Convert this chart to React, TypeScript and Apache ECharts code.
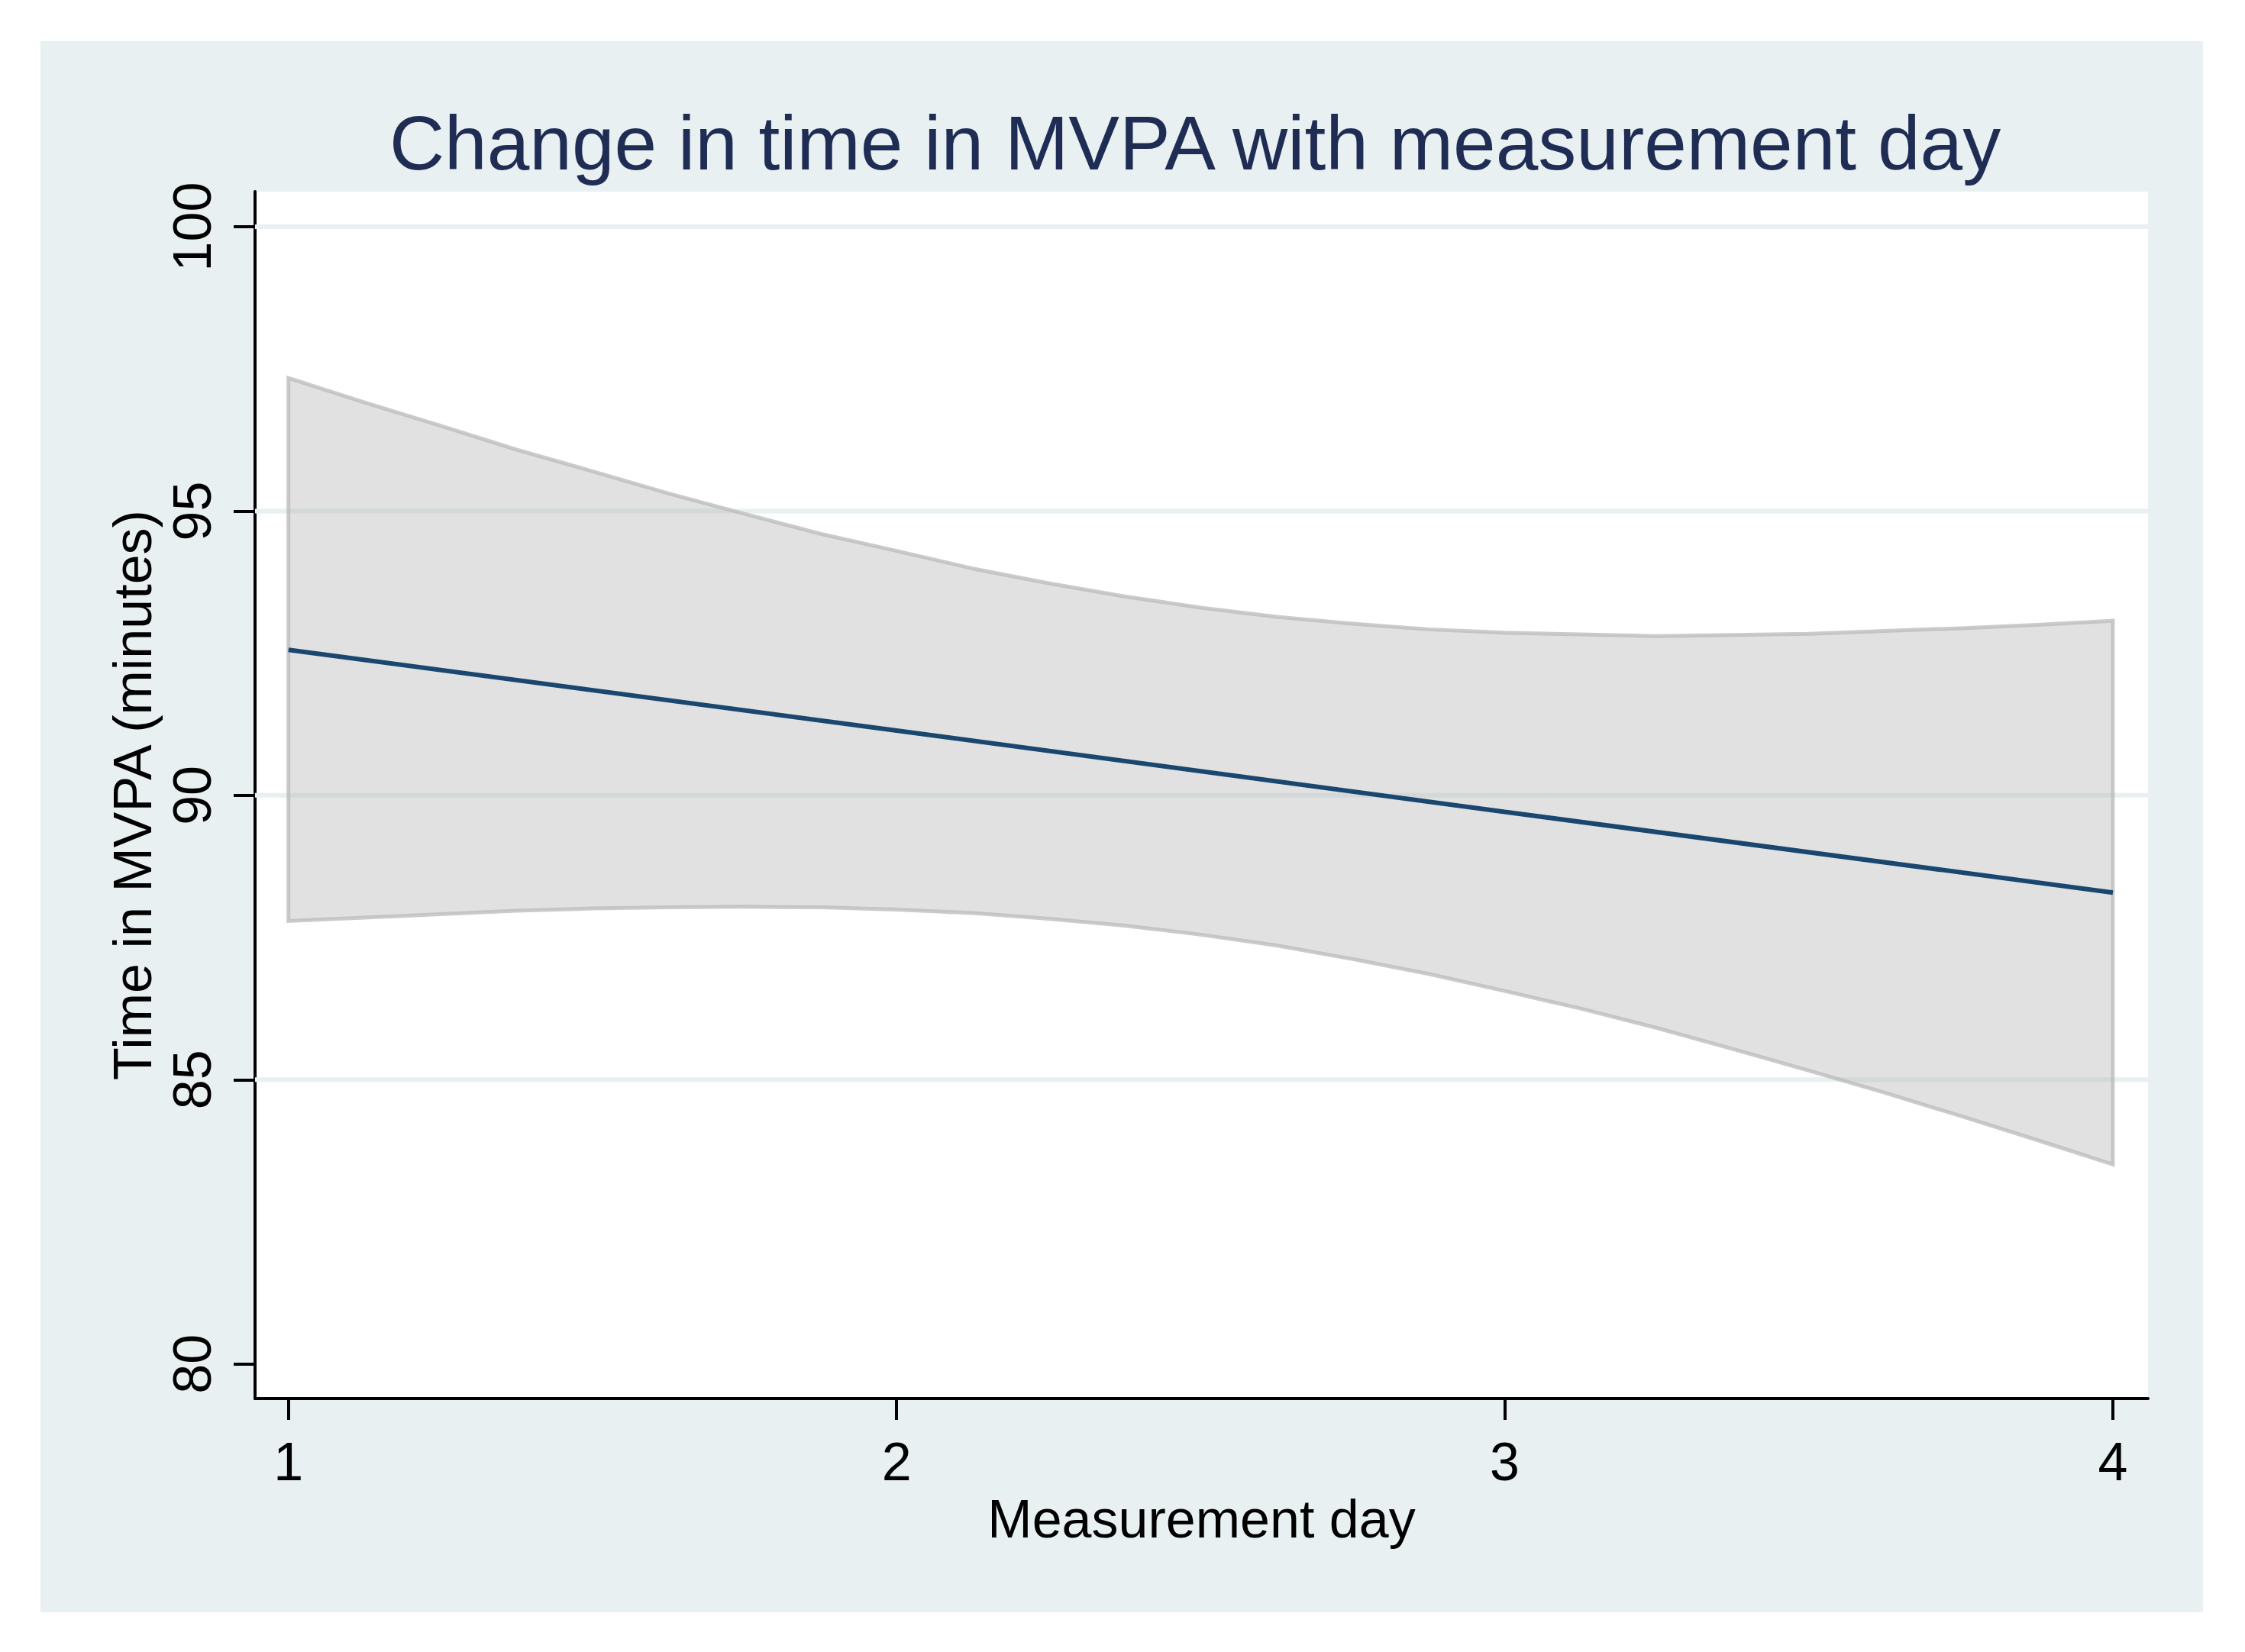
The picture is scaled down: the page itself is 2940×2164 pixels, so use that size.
import React, { useEffect, useRef } from "react";
import * as echarts from "echarts";

// ---- data ----
const bandDays = [1, 1.125, 1.25, 1.375, 1.5, 1.625, 1.75, 1.875, 2, 2.125, 2.25, 2.375, 2.5, 2.625, 2.75, 2.875, 3, 3.125, 3.25, 3.375, 3.5, 3.625, 3.75, 3.875, 4];
const ciUpper = [97.34, 96.91, 96.5, 96.08, 95.7, 95.31, 94.95, 94.6, 94.3, 93.99, 93.73, 93.5, 93.3, 93.14, 93.02, 92.92, 92.86, 92.83, 92.8, 92.82, 92.84, 92.89, 92.94, 93.0, 93.07];
const ciLower = [87.79, 87.85, 87.91, 87.97, 88.01, 88.03, 88.04, 88.03, 87.99, 87.93, 87.83, 87.71, 87.55, 87.36, 87.12, 86.86, 86.56, 86.25, 85.91, 85.54, 85.16, 84.77, 84.36, 83.94, 83.51];
const fitDays = [1, 2, 3, 4];
const fitValues = [92.56, 91.14, 89.71, 88.29];
const xTicks = [1, 2, 3, 4];
const yTicks = [80, 85, 90, 95, 100];
const yGrid = [85, 90, 95, 100];

const TITLE = "Change in time in MVPA with measurement day";
const X_NAME = "Measurement day";
const Y_NAME = "Time in MVPA (minutes)";

const FONT = '"Liberation Sans", Arial, Helvetica, sans-serif';
const BG = "#e8f0f2";

export default function App() {
  const ref = useRef<HTMLDivElement>(null);
  useEffect(() => {
    const chart = echarts.init(ref.current!, null, { renderer: "svg" });
    const option: any = {
      animation: false,
      backgroundColor: BG,
      textStyle: { fontFamily: FONT },
      title: {
        text: TITLE,
        left: 1507,
        top: 78,
        textAlign: "center",
        textStyle: { fontFamily: FONT, fontSize: 100, fontWeight: "normal", color: "#1f2c54" },
      },
      grid: {
        left: 281,
        right: 72,
        top: 197,
        bottom: 280,
        show: true,
        backgroundColor: "#ffffff",
        borderWidth: 0,
      },
      xAxis: {
        type: "value",
        min: 0.9451,
        max: 4.0578,
        name: X_NAME,
        nameLocation: "middle",
        nameGap: 120,
        nameTextStyle: { fontFamily: FONT, fontSize: 70, color: "#000" },
        axisLine: { show: true, onZero: false, lineStyle: { color: "#000", width: 4 } },
        axisTick: { show: true, length: 28, customValues: xTicks, lineStyle: { color: "#000", width: 4 } },
        axisLabel: {
          customValues: xTicks,
          margin: 48,
          fontSize: 70,
          color: "#000",
          fontFamily: FONT,
          formatter: (v: number) => String(Math.round(v)),
        },
        splitLine: { show: false },
      },
      yAxis: {
        type: "value",
        min: 79.392,
        max: 100.618,
        name: Y_NAME,
        nameLocation: "middle",
        nameRotate: 90,
        nameGap: 124,
        nameTextStyle: { fontFamily: FONT, fontSize: 70, color: "#000" },
        axisLine: { show: true, onZero: false, lineStyle: { color: "#000", width: 4 } },
        axisTick: { show: true, length: 28, customValues: yTicks, lineStyle: { color: "#000", width: 4 } },
        axisLabel: {
          customValues: yTicks,
          rotate: 90,
          margin: 47,
          fontSize: 70,
          color: "#000",
          fontFamily: FONT,
          formatter: (v: number) => String(Math.round(v)),
        },
        splitLine: { show: false },
      },
      series: [
        {
          type: "custom",
          name: "grid",
          z: 1,
          silent: true,
          data: yGrid.map((v) => [xTicks[0], v]),
          renderItem: (params: any, api: any) => {
            const cs = params.coordSys;
            const p = api.coord([api.value(0), api.value(1)]);
            return {
              type: "line",
              shape: { x1: cs.x, y1: p[1], x2: cs.x + cs.width, y2: p[1] },
              style: { stroke: BG, lineWidth: 6 },
            };
          },
        },
        {
          type: "custom",
          name: "95% CI",
          z: 2,
          silent: true,
          data: [[bandDays[0], ciUpper[0]]],
          renderItem: (params: any, api: any) => {
            const pts: number[][] = [];
            for (let i = 0; i < bandDays.length; i++) pts.push(api.coord([bandDays[i], ciUpper[i]]));
            for (let i = bandDays.length - 1; i >= 0; i--) pts.push(api.coord([bandDays[i], ciLower[i]]));
            return {
              type: "polygon",
              shape: { points: pts },
              style: { fill: "rgba(175,175,175,0.38)", stroke: "rgba(185,185,185,0.75)", lineWidth: 5, lineJoin: "miter" },
            };
          },
        },
        {
          type: "line",
          name: "Fitted values",
          z: 3,
          data: fitDays.map((d, i) => [d, fitValues[i]]),
          showSymbol: false,
          symbol: "none",
          lineStyle: { color: "#1a476f", width: 6 },
        },
      ],
    };
    chart.setOption(option);
    return () => chart.dispose();
  }, []);
  return (
    <div style={{ position: "fixed", left: 0, top: 0, width: 2940, height: 2164, background: "#ffffff" }}>
      <div ref={ref} style={{ position: "absolute", left: 53, top: 54, width: 2832, height: 2058 }} />
    </div>
  );
}
